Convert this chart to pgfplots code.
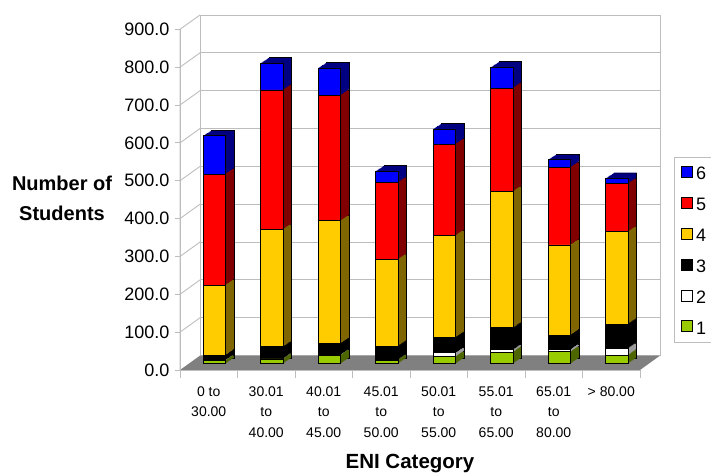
\documentclass[border=0pt]{standalone}
\usepackage{fontspec}
\setmainfont{Liberation Sans}
\usepackage{pgfplots}
\usepackage{pgfplotstable}
\pgfplotsset{compat=1.18}

% face colours (front) and shaded colours (sides and tops)
\definecolor{cBlue}{HTML}{0000FF}   \definecolor{dBlue}{HTML}{000080}
\definecolor{cRed}{HTML}{FF0000}    \definecolor{dRed}{HTML}{800000}
\definecolor{cYel}{HTML}{FFCC00}    \definecolor{dYel}{HTML}{806600}
\definecolor{cBlk}{HTML}{000000}    \definecolor{dBlk}{HTML}{000000}
\definecolor{cWht}{HTML}{FFFFFF}    \definecolor{dWht}{HTML}{9A9A9A}
\definecolor{cGrn}{HTML}{99CC00}    \definecolor{dGrn}{HTML}{4D6600}
\definecolor{gridgray}{HTML}{BDBDBD}
\definecolor{floorgray}{HTML}{808080}

% students per ENI category, split by level 1..6
\pgfplotstableread{
x  g  w  k   y   r   b
0  8  1  13  185 293 101
1  12 1  31  310 368 71
2  22 1  30  324 331 72
3  9  1  36  229 203 30
4  18 10 41  269 241 40
5  30 6  58  360 273 55
6  31 6  38  238 205 20
7  22 18 64  244 127 14
}\enrol

\pgfplotsset{
  bararea/.style={scale only axis, width=460pt, height=341pt,
    xmin=-0.5, xmax=7.5, ymin=0, ymax=900, axis lines=none,
    ybar stacked, bar width=22.7pt, clip=false},
}

\begin{document}
\begin{tikzpicture}[x=1pt,y=1pt]
\path[use as bounding box] (0,0) rectangle (711,472);

% back wall with its grid
\begin{axis}[at={(200pt,116.4pt)}, anchor=south west, scale only axis,
  width=460pt, height=340.6pt, xmin=0, xmax=1, ymin=0, ymax=900,
  xtick=\empty, ytick={100,200,...,900}, yticklabels={},
  ymajorgrids, major grid style={gridgray, line width=0.9pt},
  axis line style={gridgray, line width=0.9pt}, major tick length=0pt]
\end{axis}

% floor and side wall
\fill[floorgray] (180,102) -- (640,102) -- (660,116.4) -- (200,116.4) -- cycle;
\draw[gridgray, line width=0.9pt] (180,102) -- (180,442.7) -- (200,457);
\foreach \v in {1,...,8}
  \draw[gridgray, line width=0.9pt] (180,102+\v*37.856) -- (200,116.4+\v*37.844);

% front scale, category labels and titles
\begin{axis}[at={(180pt,102pt)}, anchor=south west, scale only axis,
  width=460pt, height=340.7pt, xmin=-0.5, xmax=7.5, ymin=0, ymax=900,
  axis lines*=left, axis line style={gridgray, line width=0.9pt},
  tick style={gridgray, line width=0.9pt},
  ytick={0,100,...,900},
  /pgf/number format/assume math mode=true,
  yticklabel style={/pgf/number format/.cd, fixed, fixed zerofill, precision=1,
    /tikz/.cd, font=\fontsize{18}{20}\selectfont, text=black, xshift=-2pt},
  xtick={0,...,7},
  xticklabels={{0 to\\30.00},{30.01\\to\\40.00},{40.01\\to\\45.00},{45.01\\to\\50.00},
    {50.01\\to\\55.00},{55.01\\to\\65.00},{65.01\\to\\80.00},{> 80.00}},
  xticklabel style={align=center, font=\fontsize{14}{20.5}\selectfont, text=black,
    yshift=-8pt},
  minor xtick={-0.5,0.5,...,7.5},
  major x tick style={draw=none},
  major tick length=5pt, minor tick length=8pt, tick align=outside,
  xlabel={ENI Category},
  xlabel style={at={(axis description cs:0.5,-0.275)}, anchor=center,
    font=\bfseries\fontsize{20.5}{24}\selectfont},
  ylabel={Number of\\Students},
  ylabel style={rotate=-90, at={(axis description cs:-0.2565,0.505)}, anchor=center,
    align=center, font=\bfseries\fontsize{20}{30}\selectfont},
]
\end{axis}

% depth of the bars: shaded copies stepped back and up
\foreach \k in {8,7,...,1}{
  \ifnum\k=8 \def\edge{black}\else\def\edge{none}\fi
  \begin{axis}[bararea, at={(185.65pt+\k*1.04pt,108.5pt+\k*0.69pt)}, anchor=south west]
    \addplot[fill=dGrn, draw=\edge] table[x=x,y=g]{\enrol};
    \addplot[fill=dWht, draw=\edge] table[x=x,y=w]{\enrol};
    \addplot[fill=dBlk, draw=\edge] table[x=x,y=k]{\enrol};
    \addplot[fill=dYel, draw=\edge] table[x=x,y=y]{\enrol};
    \addplot[fill=dRed, draw=\edge] table[x=x,y=r]{\enrol};
    \addplot[fill=dBlue, draw=\edge] table[x=x,y=b]{\enrol};
  \end{axis}
}

% front faces of the bars and the legend
\begin{axis}[bararea, at={(185.65pt,108.5pt)}, anchor=south west,
  every axis plot/.append style={draw=black, line width=0.8pt},
  reverse legend,
  legend image code/.code={\draw[#1, line width=0.8pt] (0pt,-4pt) rectangle (11pt,7pt);},
  legend style={at={(axis description cs:1.0616,0.6056)}, anchor=north west,
    draw=gridgray, line width=0.9pt, inner xsep=6.5pt, inner ysep=8.5pt,
    font=\fontsize{18}{20}\selectfont, row sep=17pt,
    nodes={inner sep=0pt, text height=13pt, text depth=0pt},
    /tikz/every odd column/.append style={column sep=3.5pt}},
  legend cell align=left]
  \addplot[fill=cGrn] table[x=x,y=g]{\enrol};
  \addplot[fill=cWht] table[x=x,y=w]{\enrol};
  \addplot[fill=cBlk] table[x=x,y=k]{\enrol};
  \addplot[fill=cYel] table[x=x,y=y]{\enrol};
  \addplot[fill=cRed] table[x=x,y=r]{\enrol};
  \addplot[fill=cBlue] table[x=x,y=b]{\enrol};
  \legend{1,2,3,4,5,6}
\end{axis}
\end{tikzpicture}
\end{document}
